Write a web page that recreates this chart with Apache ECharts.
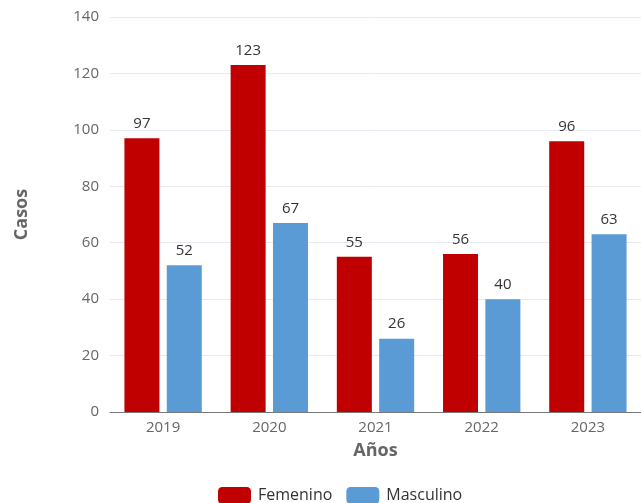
<!DOCTYPE html>
<html><head><meta charset="utf-8">
<script src="https://cdn.jsdelivr.net/npm/echarts@6/dist/echarts.min.js"></script>
<style>html,body{margin:0;padding:0;background:#fff}#c{width:641px;height:503px}</style>
</head><body><div id="c"></div>
<script>
const categories = ['2019','2020','2021','2022','2023'];
const femenino = [97,123,55,56,96];
const masculino = [52,67,26,40,63];
const yTicks = [0,20,40,60,80,100,120,140];

const chart = echarts.init(document.getElementById('c'), null, {renderer:'canvas'});
const font = '"Open Sans", "Noto Sans", sans-serif';
chart.setOption({
  animation:false,
  textStyle:{fontFamily:font},
  grid:{left:110,right:-1.5,top:17,bottom:91},
  legend:{bottom:-6,left:213,itemWidth:33,itemHeight:17,itemGap:14,
    textStyle:{fontSize:16,color:'#333',fontFamily:font,padding:[0,0,0,2]},
    data:['Femenino','Masculino']},
  xAxis:{type:'category',data:categories,name:'Años',nameLocation:'middle',nameGap:30,
    nameTextStyle:{fontSize:18,fontWeight:'bold',color:'#666'},
    axisLine:{lineStyle:{color:'#777'}},axisTick:{lineStyle:{color:'#777'}},
    axisLabel:{fontSize:15,color:'#666',margin:8}},
  yAxis:{type:'value',min:yTicks[0],max:yTicks[yTicks.length-1],interval:20,name:'Casos',nameLocation:'middle',nameGap:79,
    nameTextStyle:{fontSize:18,fontWeight:'bold',color:'#666'},
    axisLabel:{fontSize:15,color:'#666',margin:11},
    splitLine:{lineStyle:{color:'#e6e9f2'}}},
  series:[
    {name:'Femenino',type:'bar',data:femenino,barWidth:35,barGap:'21%',
     itemStyle:{color:'#c00000'},label:{show:true,position:'top',distance:7,fontSize:15,color:'#333'}},
    {name:'Masculino',type:'bar',data:masculino,barWidth:35,
     itemStyle:{color:'#5b9bd5'},label:{show:true,position:'top',distance:7,fontSize:15,color:'#333'}}
  ]
});
</script></body></html>
